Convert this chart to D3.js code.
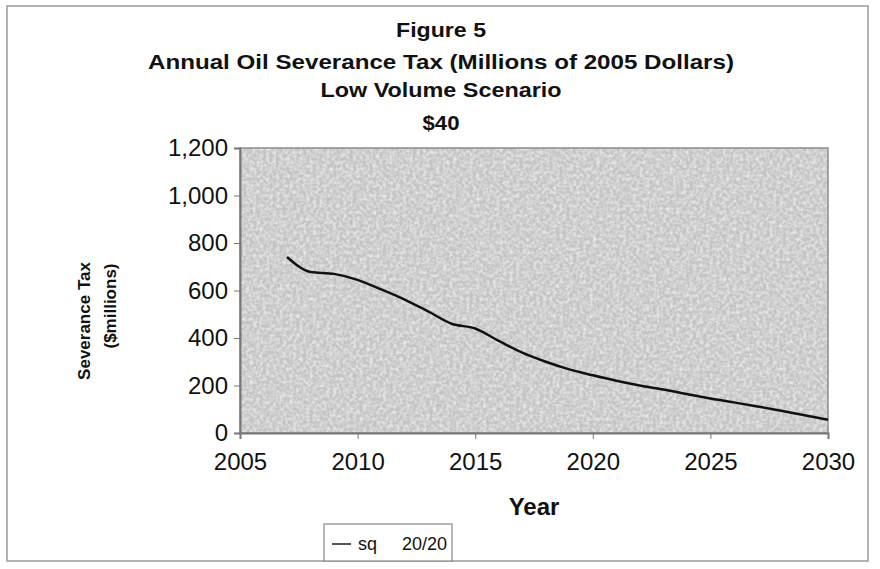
<!DOCTYPE html>
<html>
<head>
<meta charset="utf-8">
<script src="https://cdn.jsdelivr.net/npm/d3@7"></script>
<style>
  body { margin: 0; background: #fff; }
  svg { display: block; font-family: "Liberation Sans", Arial, sans-serif; }
</style>
</head>
<body>
<svg id="chart"></svg>
<script>
// values
const years = [2007, 2008, 2009, 2010, 2011, 2012, 2013, 2014, 2015, 2016, 2017, 2018,
               2019, 2020, 2021, 2022, 2023, 2024, 2025, 2026, 2027, 2028, 2029, 2030];
const tax = [741, 678, 670, 645, 605, 562, 512, 460, 440, 388, 338, 300,
             268, 243, 220, 200, 183, 164, 145, 129, 112, 94, 75, 56];
const titleLines = ["Figure 5", "Annual Oil Severance Tax (Millions of 2005 Dollars)",
                    "Low Volume Scenario", "$40"];
const yTicks = [0, 200, 400, 600, 800, 1000, 1200];
const xTicks = [2005, 2010, 2015, 2020, 2025, 2030];
const seriesName = "sq     20/20";

const width = 880, height = 569;
const margin = { top: 148, right: 52, bottom: 136, left: 240 };
const innerW = width - margin.left - margin.right;
const innerH = height - margin.top - margin.bottom;

const svg = d3.select("#chart").attr("width", width).attr("height", height);

// paper texture for the plot area
const defs = svg.append("defs");
const filt = defs.append("filter").attr("id", "grain")
    .attr("x", 0).attr("y", 0).attr("width", 1).attr("height", 1);
filt.append("feTurbulence").attr("type", "fractalNoise")
    .attr("baseFrequency", 0.3).attr("numOctaves", 2).attr("seed", 4);
filt.append("feColorMatrix").attr("type", "matrix")
    .attr("values", "0 0 0 0 1  0 0 0 0 1  0 0 0 0 1  0 0 0 -1.3 0.85");
filt.append("feComposite").attr("in2", "SourceGraphic").attr("operator", "in");

// outer frame
svg.append("rect")
    .attr("x", 7).attr("y", 6).attr("width", 861).attr("height", 555)
    .attr("fill", "none").attr("stroke", "#9a9a9a").attr("stroke-width", 1.5);

// titles
const titleY = [30, 62, 90, 123];
const titleW = [90, 586, 241, 37];
svg.append("g").selectAll("text")
    .data(titleLines)
    .join("text")
    .attr("x", 441)
    .attr("y", (d, i) => titleY[i])
    .attr("dy", "0.35em")
    .attr("text-anchor", "middle")
    .attr("font-weight", "bold")
    .attr("font-size", 21)
    .attr("fill", "#111")
    .attr("textLength", (d, i) => titleW[i])
    .attr("lengthAdjust", "spacingAndGlyphs")
    .text(d => d);

const x = d3.scaleLinear().domain([2005, 2030]).range([0, innerW]);
const y = d3.scaleLinear().domain([0, 1200]).range([innerH, 0]);

const g = svg.append("g").attr("transform", `translate(${margin.left},${margin.top})`);

// plot area
g.append("rect").attr("width", innerW).attr("height", innerH).attr("fill", "#c4c4c4");
g.append("rect").attr("width", innerW).attr("height", innerH).attr("fill", "#c4c4c4")
    .attr("filter", "url(#grain)");
g.append("rect").attr("width", innerW).attr("height", innerH)
    .attr("fill", "none").attr("stroke", "#8c8c8c").attr("stroke-width", 1.5);

// axes
const yAxis = g.append("g")
    .call(d3.axisLeft(y).tickValues(yTicks).tickFormat(d3.format(",")).tickSize(6).tickPadding(6));
const xAxis = g.append("g").attr("transform", `translate(0,${innerH})`)
    .call(d3.axisBottom(x).tickValues(xTicks).tickFormat(d3.format("d")).tickSize(6).tickPadding(14));

[yAxis, xAxis].forEach(a => {
    a.select(".domain").attr("stroke", "#777").attr("stroke-width", 2);
    a.selectAll(".tick line").attr("stroke", "#777");
    a.selectAll(".tick text")
        .attr("font-size", 24)
        .attr("fill", "#111")
        .attr("font-family", "'Liberation Sans', Arial, sans-serif");
});
xAxis.selectAll(".tick text").attr("dy", "0.71em");

// series
const line = d3.line()
    .x((d, i) => x(years[i]))
    .y(d => y(d))
    .curve(d3.curveMonotoneX);

g.append("path")
    .datum(tax)
    .attr("fill", "none")
    .attr("stroke", "#111")
    .attr("stroke-width", 2.5)
    .attr("d", line);

// axis titles
svg.append("text")
    .attr("x", 534).attr("y", 507).attr("dy", "0.35em")
    .attr("text-anchor", "middle")
    .attr("font-weight", "bold").attr("font-size", 24).attr("fill", "#111")
    .text("Year");

svg.append("text")
    .attr("transform", "translate(84,321) rotate(-90)")
    .attr("dy", "0.35em")
    .attr("text-anchor", "middle")
    .attr("font-weight", "bold").attr("font-size", 17).attr("fill", "#111")
    .text("Severance Tax");
svg.append("text")
    .attr("transform", "translate(110,306) rotate(-90)")
    .attr("dy", "0.35em")
    .attr("text-anchor", "middle")
    .attr("font-weight", "bold").attr("font-size", 17).attr("fill", "#111")
    .text("($millions)");

// legend
const lg = svg.append("g").attr("transform", "translate(324,524)");
lg.append("rect").attr("width", 128).attr("height", 37)
    .attr("fill", "#fff").attr("stroke", "#888").attr("stroke-width", 1.2);
lg.append("line").attr("x1", 8).attr("x2", 27).attr("y1", 20).attr("y2", 20)
    .attr("stroke", "#555").attr("stroke-width", 2);
lg.append("text").attr("x", 34).attr("y", 20).attr("dy", "0.35em")
    .attr("font-size", 18).attr("fill", "#111")
    .attr("xml:space", "preserve")
    .text(seriesName);
</script>
</body>
</html>
